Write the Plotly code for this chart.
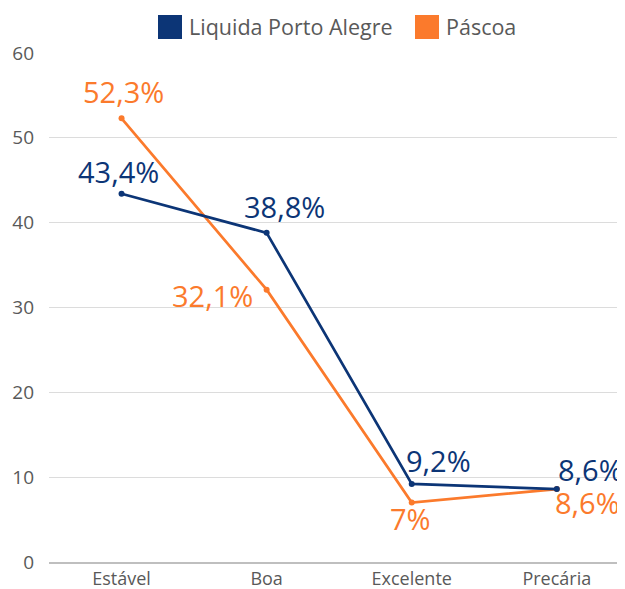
import plotly.graph_objects as go

categories = ["Estável", "Boa", "Excelente", "Precária"]
series_names = ["Liquida Porto Alegre", "Páscoa"]
liquida = [43.4, 38.8, 9.2, 8.6]
pascoa = [52.3, 32.1, 7.0, 8.6]
liquida_labels = ["43,4%", "38,8%", "9,2%", "8,6%"]
pascoa_labels = ["52,3%", "32,1%", "7%", "8,6%"]
y_ticks = [0, 10, 20, 30, 40, 50, 60]

BLUE = "#0C3576"
ORANGE = "#FB7A2C"
GRAY = "#595959"
FONT = "Open Sans"

fig = go.Figure()
fig.add_trace(go.Scatter(x=categories, y=pascoa, mode="lines+markers",
                         line=dict(color=ORANGE, width=2.7),
                         marker=dict(size=6, color=ORANGE), showlegend=False))
fig.add_trace(go.Scatter(x=categories, y=liquida, mode="lines+markers",
                         line=dict(color=BLUE, width=2.7),
                         marker=dict(size=6, color=BLUE), showlegend=False))

# data labels (offsets in pixels)
liq_off = [(-3, 22), (18, 26), (27, 23), (34, 20)]
pas_off = [(2, 27), (-54, -6), (-1, -16), (31, -13)]
for cat, v, t, (dx, dy) in zip(categories, liquida, liquida_labels, liq_off):
    fig.add_annotation(x=cat, y=v, text=t, showarrow=False, xshift=dx, yshift=dy,
                       font=dict(family=FONT, size=29, color=BLUE))
for cat, v, t, (dx, dy) in zip(categories, pascoa, pascoa_labels, pas_off):
    fig.add_annotation(x=cat, y=v, text=t, showarrow=False, xshift=dx, yshift=dy,
                       font=dict(family=FONT, size=29, color=ORANGE))

# custom legend (square swatches); coordinates relative to plot area
legend_items = [(158, BLUE, series_names[0]), (415, ORANGE, series_names[1])]
for x0, col, name in legend_items:
    fig.add_shape(type="rect", xref="paper", yref="paper",
                  x0=(x0 - 49) / 576, x1=(x0 + 24 - 49) / 576,
                  y0=(562 - 39) / 509, y1=(562 - 15) / 509,
                  fillcolor=col, line=dict(width=0))
    fig.add_annotation(xref="paper", yref="paper", x=(x0 + 29 - 49) / 576,
                       y=(562 - 27) / 509, text=name, showarrow=False,
                       xanchor="left", yanchor="middle",
                       font=dict(family=FONT, size=21.5, color=GRAY))

# page body has an 8px margin, so the figure is 8px smaller and offset
W, H = 617, 581
fig.update_layout(
    width=W, height=H,
    margin=dict(l=41, r=0, t=45, b=27, autoexpand=False),
    plot_bgcolor="white", paper_bgcolor="white",
    font=dict(family=FONT, color=GRAY),
    xaxis=dict(range=[-0.5, 3.47], showgrid=False, showline=True,
               linecolor="#BFBFBF", linewidth=1.5, ticks="",
               tickfont=dict(size=18, color=GRAY), fixedrange=True,
               automargin=False),
    yaxis=dict(range=[0, 60], tickvals=y_ticks, showgrid=True,
               gridcolor="#DCDCDC", gridwidth=1, zeroline=False,
               showline=False, ticks="", ticklabelstandoff=14,
               tickfont=dict(size=19, color=GRAY), automargin=False),
    showlegend=False,
)
fig.write_html("out.html")
